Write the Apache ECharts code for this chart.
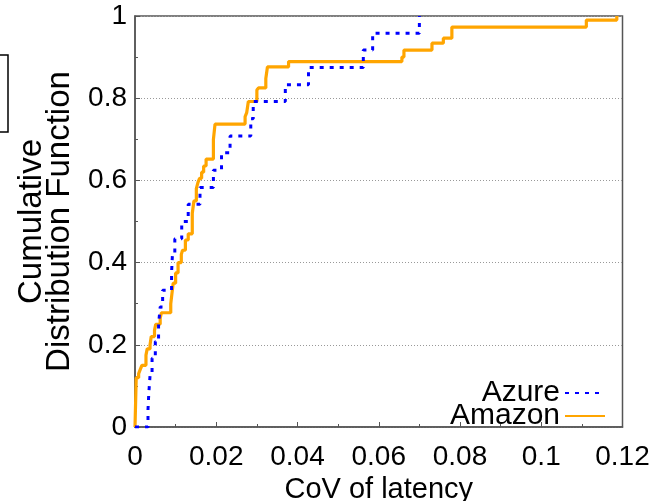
<!DOCTYPE html>
<html>
<head>
<meta charset="utf-8">
<script src="https://cdn.jsdelivr.net/npm/echarts@6/dist/echarts.min.js"></script>
<style>
  html, body { margin: 0; padding: 0; background: #fff; }
  #chart { width: 661px; height: 501px; }
</style>
</head>
<body>
<div id="chart"></div>
<script>
/* CDF steps: x = CoV, y = cumulative fraction after the jump */
const azureX = [0, 0.0032, 0.0034, 0.0037, 0.0042, 0.0050, 0.0058, 0.0062, 0.0068, 0.0090, 0.0092, 0.0098,
  0.0115, 0.0131, 0.0160, 0.0193, 0.0213, 0.0234, 0.0285, 0.0291, 0.0370, 0.0427, 0.0562, 0.0585, 0.0700]
const azureY = [0, 0.042, 0.083, 0.125, 0.167, 0.208, 0.25, 0.292, 0.333, 0.375, 0.417, 0.458,
  0.5, 0.542, 0.583, 0.625, 0.667, 0.708, 0.75, 0.792, 0.833, 0.875, 0.917, 0.958, 1]

const amazonX = [0, 0.0003, 0.0009, 0.0013, 0.0017, 0.0027, 0.0030, 0.0037, 0.0040, 0.0048, 0.0051, 0.0062,
  0.0065, 0.0088, 0.0091, 0.0094, 0.0100, 0.0106, 0.0114, 0.0117, 0.0124, 0.0131, 0.0141, 0.0145, 0.0151,
  0.0155, 0.0159, 0.0164, 0.0169, 0.0175, 0.0193, 0.0197, 0.0271, 0.0275, 0.0279, 0.0300, 0.0304, 0.0322,
  0.0326, 0.0378, 0.0657, 0.0662, 0.0731, 0.0759, 0.0780, 0.1111, 0.1186]
const amazonY = [0, 0.12, 0.13, 0.14, 0.15, 0.175, 0.19, 0.20, 0.22, 0.235, 0.25, 0.265,
  0.278, 0.30, 0.325, 0.35, 0.375, 0.40, 0.42, 0.43, 0.455, 0.47, 0.52, 0.55, 0.58,
  0.595, 0.605, 0.62, 0.635, 0.652, 0.70, 0.737, 0.755, 0.765, 0.792, 0.82, 0.825, 0.848,
  0.876, 0.889, 0.90, 0.917, 0.934, 0.946, 0.973, 0.99, 1.0]

const SERIES_NAMES = ['Azure', 'Amazon']
const X_NAME = 'CoV of latency'
const Y_NAME = 'Cumulative\nDistribution Function'

const FONT = 'Liberation Sans, Arial, Helvetica, sans-serif'
const AXIS_COLOR = '#555'

const pairs = (xs, ys) => xs.map((x, i) => [x, ys[i]])

const chart = echarts.init(document.getElementById('chart'), null, { renderer: 'canvas' })

chart.setOption({
  animation: false,
  textStyle: { fontFamily: FONT },
  grid: {
    left: 135, right: 38.5, top: 16, bottom: 74,
    outerBoundsMode: 'none',
    containLabel: false,
    show: true, borderColor: AXIS_COLOR, borderWidth: 1.5, backgroundColor: 'transparent'
  },
  /* clipped box at the very left edge of the picture */
  graphic: [{
    type: 'rect',
    shape: { x: -10, y: 55, width: 18, height: 77 },
    style: { fill: 'none', stroke: '#000', lineWidth: 1.5 }
  }],
  legend: {
    data: SERIES_NAMES,
    orient: 'vertical',
    align: 'right',
    right: 55,
    top: 378,
    padding: 0,
    itemGap: -7,
    itemWidth: 40,
    itemHeight: 21,
    itemStyle: { opacity: 0 },
    textStyle: { fontSize: 30, color: '#000', lineHeight: 21, fontFamily: FONT }
  },
  xAxis: {
    type: 'value',
    min: 0, max: 0.12, interval: 0.02,
    name: X_NAME,
    nameLocation: 'middle',
    nameGap: 46,
    nameTextStyle: { fontSize: 29, color: '#000' },
    axisLine: { show: true, lineStyle: { color: AXIS_COLOR, width: 1.5 } },
    axisTick: { show: true, inside: true, length: 5, lineStyle: { color: AXIS_COLOR } },
    minorTick: { show: true, splitNumber: 2, length: 3, lineStyle: { color: AXIS_COLOR } },
    axisLabel: { fontSize: 28, color: '#000', margin: 16 },
    splitLine: { show: false }
  },
  yAxis: {
    type: 'value',
    min: 0, max: 1, interval: 0.2,
    name: Y_NAME,
    nameLocation: 'middle',
    nameRotate: 90,
    nameGap: 61,
    nameTextStyle: { fontSize: 33, color: '#000', lineHeight: 28 },
    axisLine: { show: true, lineStyle: { color: AXIS_COLOR, width: 1.5 } },
    axisTick: { show: true, inside: true, length: 5, lineStyle: { color: AXIS_COLOR } },
    minorTick: { show: true, splitNumber: 2, length: 3, lineStyle: { color: AXIS_COLOR } },
    axisLabel: { fontSize: 28, color: '#000', margin: 8 },
    splitLine: { show: true, lineStyle: { color: '#999', type: [1, 2], width: 1 } }
  },
  series: [
    {
      name: SERIES_NAMES[0],
      type: 'line',
      step: 'end',
      symbol: 'none',
      data: pairs(azureX, azureY),
      itemStyle: { color: '#0000ff' },
      lineStyle: { color: '#0000ff', width: 3, type: [4, 6] },
      z: 3
    },
    {
      name: SERIES_NAMES[1],
      type: 'line',
      step: 'end',
      symbol: 'none',
      data: pairs(amazonX, amazonY),
      itemStyle: { color: '#ffa500' },
      lineStyle: { color: '#ffa500', width: 3.2 },
      z: 2
    }
  ]
})
</script>
</body>
</html>
